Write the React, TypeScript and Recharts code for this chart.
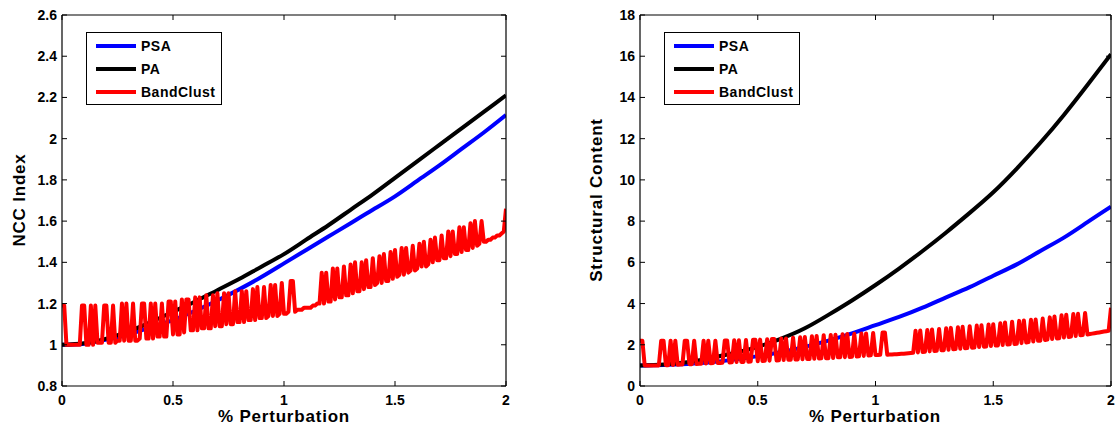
import { LineChart, Line, XAxis, YAxis, Legend } from 'recharts';

const FONT = '"Liberation Sans", Arial, Helvetica, sans-serif';

// x grid for the smooth curves (% perturbation)
const smoothX = [0, 0.1, 0.2, 0.3, 0.4, 0.5, 0.6, 0.7, 0.8, 0.9, 1.0, 1.1, 1.2, 1.3, 1.4, 1.5, 1.6, 1.7, 1.8, 1.9, 2.0];
const xTicks = [0, 0.5, 1, 1.5, 2];
const legendOrder = ['PSA', 'PA', 'BandClust'];

// left panel: NCC Index
const nccTicks = [0.8, 1, 1.2, 1.4, 1.6, 1.8, 2, 2.2, 2.4, 2.6];
const nccPSA = [1.0, 1.005, 1.025, 1.05, 1.085, 1.12, 1.165, 1.215, 1.27, 1.33, 1.395, 1.46, 1.525, 1.59, 1.655, 1.72, 1.795, 1.87, 1.95, 2.03, 2.115];
const nccPA = [1.0, 1.007, 1.03, 1.065, 1.11, 1.16, 1.21, 1.265, 1.32, 1.38, 1.44, 1.51, 1.58, 1.655, 1.73, 1.81, 1.89, 1.97, 2.05, 2.13, 2.21];
// BandClust sampled every 0.01
const nccBandClust = [
  1.19, 1.19, 1.00, 1.00, 1.00, 1.00, 1.00, 1.00, 1.00, 1.19, 1.19,
  1.00, 1.00, 1.19, 1.00, 1.19, 1.01, 1.01, 1.01, 1.19, 1.19,
  1.01, 1.01, 1.19, 1.01, 1.02, 1.02, 1.20, 1.02, 1.20, 1.02,
  1.02, 1.20, 1.02, 1.02, 1.03, 1.20, 1.20, 1.03, 1.03, 1.20,
  1.03, 1.20, 1.04, 1.04, 1.20, 1.04, 1.04, 1.21, 1.21, 1.05,
  1.21, 1.05, 1.05, 1.22, 1.06, 1.22, 1.22, 1.07, 1.07, 1.23,
  1.07, 1.23, 1.08, 1.08, 1.24, 1.08, 1.08, 1.24, 1.09, 1.25,
  1.09, 1.09, 1.25, 1.10, 1.25, 1.10, 1.10, 1.26, 1.11, 1.11,
  1.26, 1.11, 1.26, 1.12, 1.12, 1.27, 1.12, 1.28, 1.13, 1.13,
  1.28, 1.13, 1.14, 1.29, 1.14, 1.29, 1.14, 1.15, 1.30, 1.15,
  1.15, 1.16, 1.31, 1.31, 1.16, 1.17, 1.17, 1.17, 1.18, 1.18,
  1.18, 1.18, 1.19, 1.19, 1.20, 1.20, 1.35, 1.20, 1.35, 1.21,
  1.21, 1.37, 1.22, 1.37, 1.23, 1.23, 1.38, 1.24, 1.24, 1.39,
  1.25, 1.40, 1.26, 1.26, 1.40, 1.27, 1.41, 1.28, 1.28, 1.42,
  1.29, 1.30, 1.43, 1.30, 1.44, 1.31, 1.31, 1.45, 1.32, 1.46,
  1.33, 1.34, 1.47, 1.34, 1.47, 1.35, 1.36, 1.48, 1.36, 1.37,
  1.49, 1.38, 1.50, 1.38, 1.39, 1.51, 1.40, 1.52, 1.41, 1.41,
  1.53, 1.42, 1.42, 1.55, 1.43, 1.55, 1.44, 1.44, 1.57, 1.45,
  1.57, 1.46, 1.46, 1.59, 1.47, 1.60, 1.48, 1.49, 1.60, 1.50,
  1.50, 1.51, 1.51, 1.52, 1.52, 1.53, 1.53, 1.54, 1.55, 1.66,
];

// right panel: Structural Content
const scTicks = [0, 2, 4, 6, 8, 10, 12, 14, 16, 18];
const scPSA = [1.0, 1.02, 1.07, 1.15, 1.28, 1.45, 1.65, 1.9, 2.2, 2.55, 2.95, 3.35, 3.8, 4.3, 4.8, 5.35, 5.9, 6.55, 7.2, 7.95, 8.7];
const scPA = [1.0, 1.04, 1.15, 1.36, 1.6, 1.9, 2.3, 2.8, 3.45, 4.15, 4.9, 5.7, 6.55, 7.45, 8.4, 9.4, 10.55, 11.8, 13.15, 14.6, 16.1];
const scBandClust = [
  2.20, 2.20, 1.00, 1.00, 1.00, 1.00, 1.00, 1.00, 1.00, 2.20, 2.20,
  1.01, 1.01, 2.20, 1.02, 2.20, 1.03, 1.04, 1.04, 2.20, 2.20,
  1.06, 1.06, 2.20, 1.07, 1.08, 1.08, 2.20, 1.09, 2.20, 1.10,
  1.11, 2.20, 1.12, 1.12, 1.13, 2.21, 2.21, 1.14, 1.15, 2.22,
  1.16, 2.22, 1.17, 1.17, 2.23, 1.18, 1.19, 2.24, 2.24, 1.20,
  2.25, 1.21, 1.22, 2.27, 1.23, 2.28, 2.28, 1.24, 1.25, 2.30,
  1.26, 2.31, 1.27, 1.27, 2.34, 1.28, 1.29, 2.36, 1.30, 2.38,
  1.31, 1.31, 2.41, 1.32, 2.43, 1.33, 1.34, 2.46, 1.35, 1.35,
  2.48, 1.36, 2.49, 1.39, 1.39, 2.51, 1.40, 2.52, 1.41, 1.42,
  2.53, 1.43, 1.44, 2.55, 1.46, 2.55, 1.48, 1.49, 2.57, 1.50,
  1.50, 1.51, 2.60, 2.60, 1.52, 1.53, 1.53, 1.54, 1.54, 1.55,
  1.56, 1.57, 1.58, 1.59, 1.60, 1.61, 2.68, 1.63, 2.69, 1.65,
  1.66, 2.72, 1.68, 2.74, 1.70, 1.71, 2.77, 1.73, 1.74, 2.80,
  1.76, 2.82, 1.78, 1.79, 2.85, 1.81, 2.87, 1.83, 1.84, 2.90,
  1.86, 1.87, 2.93, 1.89, 2.95, 1.91, 1.92, 2.98, 1.94, 3.00,
  1.96, 1.97, 3.05, 1.99, 3.08, 2.01, 2.02, 3.12, 2.04, 2.05,
  3.16, 2.08, 3.18, 2.11, 2.13, 3.21, 2.16, 3.23, 2.19, 2.20,
  3.27, 2.23, 2.25, 3.33, 2.28, 3.37, 2.31, 2.32, 3.43, 2.35,
  3.46, 2.38, 2.40, 3.49, 2.43, 3.50, 2.46, 2.47, 3.54, 2.50,
  2.52, 2.54, 2.56, 2.58, 2.60, 2.62, 2.64, 2.66, 2.68, 3.80,
];

const tickStyle = { fill: '#000', fontSize: 14, fontWeight: 700, fontFamily: FONT };
const axisLine = { stroke: '#000', strokeWidth: 1.2 };

const toSmooth = (ys: number[]) => smoothX.map((x, i) => ({ x, y: ys[i] }));
const toDense = (ys: number[]) => ys.map((y, i) => ({ x: i / 100, y }));

function LegendBox(props: any) {
  const items = [...(props.payload || [])].sort(
    (a: any, b: any) => legendOrder.indexOf(a.value) - legendOrder.indexOf(b.value)
  );
  return (
    <div
      style={{
        width: 134,
        height: 71,
        border: '1px solid #000',
        background: '#fff',
        fontFamily: FONT,
        fontWeight: 700,
        fontSize: 14,
        letterSpacing: 0.5,
        position: 'relative',
      }}
    >
      {items.map((it: any, i: number) => (
        <div key={it.value} style={{ position: 'absolute', left: 9, top: 3 + i * 23, height: 20, display: 'flex', alignItems: 'center' }}>
          <div style={{ width: 40, height: 4, background: it.color }} />
          <span style={{ marginLeft: 5, color: '#000' }}>{it.value}</span>
        </div>
      ))}
    </div>
  );
}

interface PanelProps {
  left: number;
  width: number;
  marginLeft: number;
  marginRight: number;
  yDomain: [number, number];
  yTicks: number[];
  psa: number[];
  pa: number[];
  band: number[];
}

function Panel({ left, width, marginLeft, marginRight, yDomain, yTicks, psa, pa, band }: PanelProps) {
  return (
    <div style={{ position: 'absolute', left, top: 0 }}>
      <LineChart width={width} height={431} margin={{ top: 14, right: marginRight, bottom: 15, left: marginLeft }}>
        <XAxis
          xAxisId="b"
          type="number"
          dataKey="x"
          domain={[0, 2]}
          ticks={xTicks}
          allowDataOverflow
          axisLine={axisLine}
          tickLine={{ stroke: '#000' }}
          tickSize={-5}
          tickMargin={14}
          tick={tickStyle}
          height={30}
        />
        <XAxis
          xAxisId="t"
          orientation="top"
          type="number"
          dataKey="x"
          domain={[0, 2]}
          ticks={xTicks}
          allowDataOverflow
          axisLine={axisLine}
          tickLine={{ stroke: '#000' }}
          tickSize={-5}
          tickFormatter={() => ''}
          height={1}
        />
        <YAxis
          yAxisId="l"
          type="number"
          domain={yDomain}
          ticks={yTicks}
          allowDataOverflow
          axisLine={axisLine}
          tickLine={{ stroke: '#000' }}
          tickSize={-5}
          tickMargin={10}
          tick={tickStyle}
          width={40}
        />
        <YAxis
          yAxisId="r"
          orientation="right"
          type="number"
          domain={yDomain}
          ticks={yTicks}
          allowDataOverflow
          axisLine={axisLine}
          tickLine={{ stroke: '#000' }}
          tickSize={-5}
          tickFormatter={() => ''}
          width={1}
        />
        <Legend
          layout="vertical"
          align="center"
          verticalAlign="middle"
          wrapperStyle={{ left: 86 + (marginLeft - 22), top: 32, width: 136 }}
          content={<LegendBox />}
        />
        <Line xAxisId="b" yAxisId="l" data={toSmooth(psa)} dataKey="y" name="PSA" type="natural" stroke="#0000ff" strokeWidth={4} dot={false} isAnimationActive={false} />
        <Line xAxisId="b" yAxisId="l" data={toSmooth(pa)} dataKey="y" name="PA" type="natural" stroke="#000000" strokeWidth={4} dot={false} isAnimationActive={false} />
        <Line xAxisId="b" yAxisId="l" data={toDense(band)} dataKey="y" name="BandClust" type="linear" stroke="#ff0000" strokeWidth={4} strokeLinejoin="round" dot={false} isAnimationActive={false} />
      </LineChart>
    </div>
  );
}

const titleStyle: any = {
  position: 'absolute',
  fontFamily: FONT,
  fontWeight: 700,
  fontSize: 17,
  letterSpacing: 0.8,
  lineHeight: 1,
  whiteSpace: 'nowrap',
  color: '#000',
};

export default function App() {
  return (
    <div style={{ position: 'absolute', left: 0, top: 0, width: 1116, height: 431, background: '#fff', overflow: 'hidden' }}>
      <Panel left={0} width={560} marginLeft={22} marginRight={53} yDomain={[0.8, 2.6]} yTicks={nccTicks} psa={nccPSA} pa={nccPA} band={nccBandClust} />
      <Panel left={560} width={556} marginLeft={40} marginRight={4} yDomain={[0, 18]} yTicks={scTicks} psa={scPSA} pa={scPA} band={scBandClust} />
      <div style={{ ...titleStyle, left: 284, top: 408, transform: 'translateX(-50%)' }}>% Perturbation</div>
      <div style={{ ...titleStyle, left: 875, top: 408, transform: 'translateX(-50%)' }}>% Perturbation</div>
      <div style={{ ...titleStyle, left: 19, top: 200, transform: 'translate(-50%, -50%) rotate(-90deg)' }}>NCC Index</div>
      <div style={{ ...titleStyle, left: 596, top: 200, transform: 'translate(-50%, -50%) rotate(-90deg)' }}>Structural Content</div>
    </div>
  );
}
